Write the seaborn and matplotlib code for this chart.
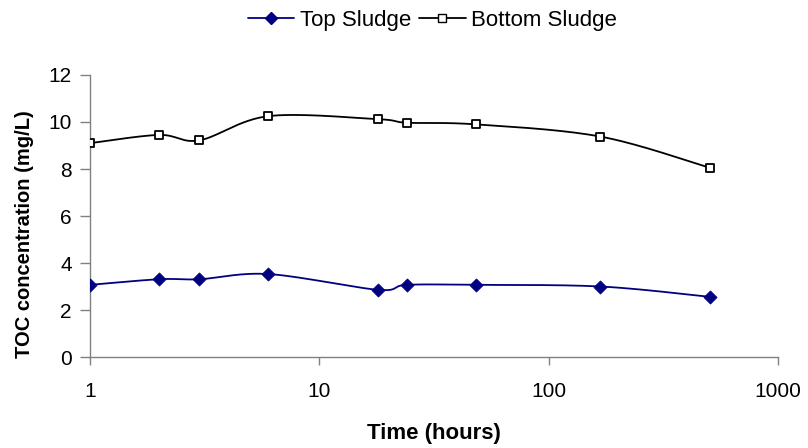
import numpy as np
import pandas as pd
import matplotlib
matplotlib.use("Agg")
import matplotlib.pyplot as plt
import seaborn as sns
from matplotlib.lines import Line2D

time_hours = [1, 2, 3, 6, 18, 24, 48, 168, 504]
top_sludge = [3.07, 3.31, 3.31, 3.53, 2.86, 3.07, 3.07, 3.00, 2.56]
bottom_sludge = [9.10, 9.45, 9.22, 10.25, 10.12, 9.97, 9.90, 9.38, 8.05]
series_names = ["Top Sludge", "Bottom Sludge"]
x_ticks = [1, 10, 100, 1000]
y_ticks = [0, 2, 4, 6, 8, 10, 12]

sns.set_theme(style="white")
plt.rcParams['font.family'] = ['Liberation Sans', 'DejaVu Sans']
plt.rcParams['text.color'] = 'black'
plt.rcParams['axes.labelcolor'] = 'black'

fig = plt.figure(figsize=(8.08, 4.48), dpi=100)
ax = fig.add_axes([0.1114, 0.2031, 0.963 - 0.1114, 0.8326 - 0.2031])

df = pd.DataFrame({
    "time": time_hours * 2,
    "toc": top_sludge + bottom_sludge,
    "series": [series_names[0]] * len(time_hours) + [series_names[1]] * len(time_hours),
})


def smooth(xs, ys, n=30):
    # Catmull-Rom style smoothing in (log10 x, y) space (rendering of the line only)
    lx = np.log10(np.asarray(xs, float))
    y = np.asarray(ys, float)
    P = np.column_stack([lx, y])
    P = np.vstack([P[0], P, P[-1]])
    out = []
    for i in range(1, len(P) - 2):
        p0, p1, p2, p3 = P[i - 1], P[i], P[i + 1], P[i + 2]
        t = np.linspace(0, 1, n)[:, None]
        c1 = p1 + (p2 - p0) / 6.0
        c2 = p2 - (p3 - p1) / 6.0
        seg = ((1 - t) ** 3) * p1 + 3 * ((1 - t) ** 2) * t * c1 + 3 * (1 - t) * t ** 2 * c2 + t ** 3 * p2
        out.append(seg)
    out = np.vstack(out)
    return 10 ** out[:, 0], out[:, 1]

colors = {"Top Sludge": "#000080", "Bottom Sludge": "#000000"}
for name, vals in zip(series_names, [top_sludge, bottom_sludge]):
    sx, sy = smooth(time_hours, vals)
    ax.plot(sx, sy, color=colors[name], lw=1.3, zorder=2)

sns.scatterplot(data=df[df.series == "Top Sludge"], x="time", y="toc", ax=ax,
                marker="D", s=45, color="#000080", edgecolor="#000080", zorder=3, legend=False)
sns.scatterplot(data=df[df.series == "Bottom Sludge"], x="time", y="toc", ax=ax,
                marker="s", s=38, color="white", edgecolor="black", linewidth=1.3, zorder=3, legend=False)

ax.set_xscale("log")
ax.set_xlim(1, 1000)
ax.set_ylim(0, 12)
ax.set_xticks(x_ticks)
ax.set_xticklabels([str(t) for t in x_ticks])
ax.set_yticks(y_ticks)
ax.set_yticklabels([str(t) for t in y_ticks])
ax.xaxis.set_minor_locator(matplotlib.ticker.NullLocator())

for s in ["top", "right"]:
    ax.spines[s].set_visible(False)
for s in ["left", "bottom"]:
    ax.spines[s].set_color("#808080")
    ax.spines[s].set_linewidth(1.0)

ax.tick_params(axis="both", which="major", direction="out", bottom=True, left=True,
               color="#808080", width=1, labelsize=15, labelcolor="black")
ax.tick_params(axis="x", length=6, pad=12)
ax.tick_params(axis="y", length=7, pad=6)

ax.set_xlabel("Time (hours)", fontsize=16, fontweight="bold", labelpad=16)
ax.set_ylabel("TOC concentration (mg/L)", fontsize=14.5, fontweight="bold")
ax.yaxis.set_label_coords(-0.082, 0.436)

handles = [
    Line2D([], [], color="#000080", lw=1.3, marker="D", markersize=6.5,
           markerfacecolor="#000080", markeredgecolor="#000080"),
    Line2D([], [], color="black", lw=1.3, marker="s", markersize=6,
           markerfacecolor="white", markeredgecolor="black"),
]
fig.legend(handles, series_names, loc="center", bbox_to_anchor=(0.535, 0.955), ncol=2,
           frameon=False, fontsize=16, handlelength=2.1, handletextpad=0.25,
           columnspacing=0.35, borderpad=0)

fig.savefig("out.png", dpi=100)
